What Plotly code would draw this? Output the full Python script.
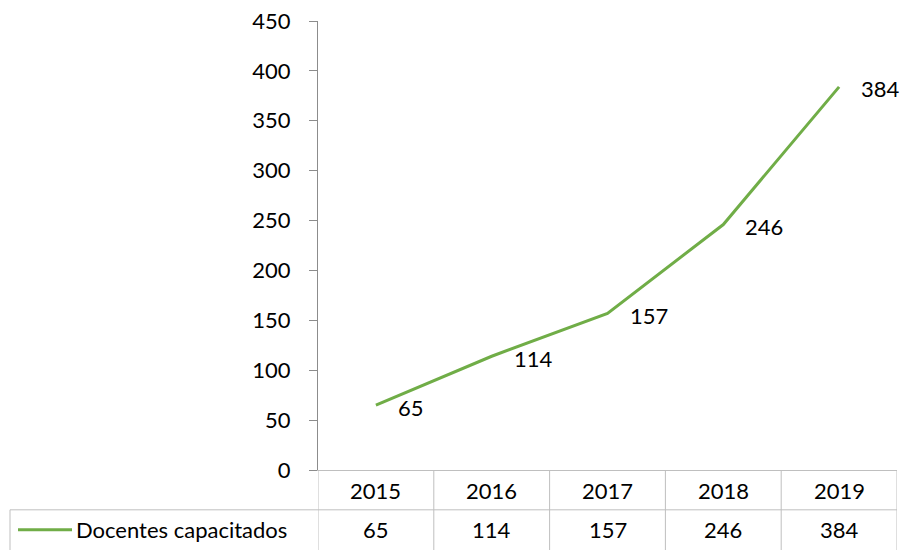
import plotly.graph_objects as go

years = ["2015", "2016", "2017", "2018", "2019"]
docentes = [65, 114, 157, 246, 384]
series_name = "Docentes capacitados"
y_ticks = [0, 50, 100, 150, 200, 250, 300, 350, 400, 450]

GREEN = "#70ad47"
GRID = "#bfbfbf"
AXIS = "#8c8c8c"
FONT = "Lato"
FS = 22

W, H = 904, 550
L, T, B = 318, 19, 80
R = W - 897
plot_h = H - T - B

def py(pix):
    return (H - B - pix) / plot_h

def px(pix):
    return (pix - L) / (W - L - R)

n = len(years)
xs = list(range(n))

fig = go.Figure()
fig.add_trace(go.Scatter(
    x=xs, y=docentes, mode="lines",
    line=dict(color=GREEN, width=3),
    name=series_name, showlegend=False, hoverinfo="skip",
))

annotations = []
for i, v in enumerate(docentes):
    annotations.append(dict(
        x=i, y=v, xref="x", yref="y", text=str(v), showarrow=False,
        xanchor="left", yanchor="middle", xshift=20, yshift=-2,
        font=dict(family=FONT, size=FS, color="black"),
    ))
    annotations.append(dict(
        x=i, y=py(491), xref="x", yref="paper", text=years[i], showarrow=False,
        xanchor="center", yanchor="middle",
        font=dict(family=FONT, size=FS, color="black"),
    ))
    annotations.append(dict(
        x=i, y=py(530), xref="x", yref="paper", text=str(v), showarrow=False,
        xanchor="center", yanchor="middle",
        font=dict(family=FONT, size=FS, color="black"),
    ))

annotations.append(dict(
    x=px(74), y=py(530), xref="paper", yref="paper", text=series_name,
    showarrow=False, xanchor="left", yanchor="middle",
    font=dict(family=FONT, size=FS, color="black"),
))

shapes = []
shapes.append(dict(type="line", xref="paper", yref="paper",
                   x0=px(10), x1=1, y0=py(510), y1=py(510),
                   line=dict(color=GRID, width=1)))
for k in range(n + 1):
    xb = k - 0.5
    shapes.append(dict(type="line", xref="x", yref="paper",
                       x0=xb, x1=xb, y0=0, y1=py(552),
                       line=dict(color=GRID, width=1)))
shapes.append(dict(type="line", xref="paper", yref="paper",
                   x0=px(10), x1=px(10), y0=py(510), y1=py(552),
                   line=dict(color=GRID, width=1)))
shapes.append(dict(type="line", xref="paper", yref="paper",
                   x0=px(18), x1=px(72), y0=py(530), y1=py(530),
                   line=dict(color=GREEN, width=3)))

fig.update_layout(
    width=W, height=H,
    margin=dict(l=L, r=R, t=T, b=B, pad=0),
    paper_bgcolor="white", plot_bgcolor="white",
    showlegend=False,
    font=dict(family=FONT, size=FS, color="black"),
    xaxis=dict(range=[-0.5, n - 0.5], showticklabels=False, showgrid=False,
               zeroline=False, showline=True, linecolor=GRID, linewidth=1,
               ticks="", fixedrange=True),
    yaxis=dict(range=[0, 450], tickvals=y_ticks, showgrid=False, zeroline=False,
               showline=True, linecolor=AXIS, linewidth=1,
               ticks="outside", ticklen=8, tickcolor=AXIS, ticklabelstandoff=14,
               fixedrange=True,
               tickfont=dict(family=FONT, size=FS, color="black")),
    annotations=annotations, shapes=shapes,
)

fig.write_html("out.html", config={"displayModeBar": False, "staticPlot": True},
               post_script="document.body.style.margin='0';document.body.style.overflow='hidden';")
